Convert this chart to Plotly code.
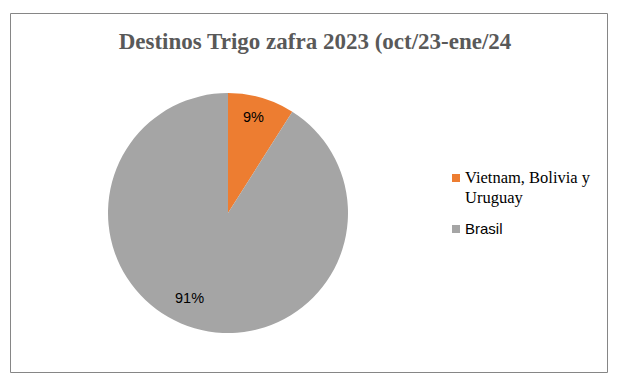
import math
import plotly.graph_objects as go

labels = ["Vietnam, Bolivia y<br>Uruguay", "Brasil"]
label_fonts = ["Liberation Serif", "Liberation Sans"]
label_sizes = [16.5, 15]
values = [9, 91]
colors = ["#ED7D31", "#A5A5A5"]
label_radius = [0.83, 0.78]  # fraction of pie radius where percentage labels sit
label_offset_deg = [-1.5, 8]  # small angular nudges (Excel best-fit placement)
title = "Destinos Trigo zafra 2023 (oct/23-ene/24"

W, H = 630, 390
cx, cy, R = 228, 213, 120

fig = go.Figure(go.Pie(
    labels=[l.replace("<br>", " ") for l in labels],
    values=values,
    marker=dict(colors=colors, line=dict(color="white", width=0)),
    sort=False,
    direction="clockwise",
    rotation=0,
    textinfo="none",
    showlegend=False,
    domain=dict(x=[(cx - R) / W, (cx + R) / W], y=[(H - cy - R) / H, (H - cy + R) / H]),
    hoverinfo="label+percent",
))

total = sum(values)
annotations = []
shapes = []
cum = 0
for v, rf, off in zip(values, label_radius, label_offset_deg):
    mid = (cum + v / 2) / total * 360 + off
    cum += v
    px = cx + rf * R * math.sin(math.radians(mid))
    py = cy - rf * R * math.cos(math.radians(mid))
    annotations.append(dict(
        x=px / W, y=(H - py) / H, xref="paper", yref="paper",
        text=f"{round(v / total * 100)}%", showarrow=False,
        font=dict(family="Liberation Sans", size=14.5, color="#000000"),
        xanchor="center", yanchor="middle"))

# manual legend (Excel-style: small square + text, first line aligned with marker)
leg_x, leg_y0, line_h, item_gap = 452, 178, 20, 11
y = leg_y0
for lab, fam, sz, col in zip(labels, label_fonts, label_sizes, colors):
    lines = lab.split("<br>")
    shapes.append(dict(type="rect", xref="paper", yref="paper",
                       x0=leg_x / W, x1=(leg_x + 8) / W,
                       y0=(H - y - 4) / H, y1=(H - y + 4) / H,
                       line=dict(width=0), fillcolor=col))
    for i, ln in enumerate(lines):
        annotations.append(dict(
            x=(leg_x + 12) / W, y=(H - y - i * line_h + 0.5) / H,
            xref="paper", yref="paper",
            text=ln, showarrow=False, align="left",
            font=dict(family=fam, size=sz, color="#000000"),
            xanchor="left", yanchor="middle", borderpad=0))
    y += len(lines) * line_h + item_gap

shapes.append(dict(type="rect", xref="paper", yref="paper",
                   x0=10.5 / W, x1=607.5 / W, y0=(H - 372.5) / H, y1=(H - 13.5) / H,
                   line=dict(color="#868686", width=1)))

fig.update_layout(
    width=W, height=H,
    margin=dict(l=0, r=0, t=0, b=0),
    paper_bgcolor="white",
    title=dict(text=f"<b>{title}</b>", x=315 / W, xanchor="center",
               y=(H - 41) / H, yanchor="middle",
               font=dict(family="Liberation Serif", size=23, color="#595959")),
    annotations=annotations,
    shapes=shapes,
    showlegend=False,
)

fig.write_html("out.html")
